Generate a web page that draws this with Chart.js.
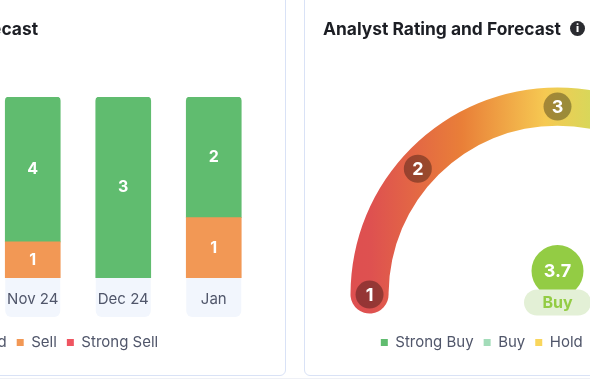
<!DOCTYPE html>
<html>
<head>
<meta charset="utf-8">
<script src="https://cdn.jsdelivr.net/npm/chart.js@4"></script>
<style>
  html, body { margin: 0; padding: 0; background: #fff; width: 590px; height: 379px; overflow: hidden; font-family: Inter, sans-serif; }
  .card { position: absolute; top: -20px; height: 396px; box-sizing: border-box; border: 1px solid #d9e2f6; border-radius: 6px; background: #fff; overflow: hidden; }
  #leftCard { left: -323px; width: 609px; }
  #rightCard { left: 304px; width: 507px; }
  #rule { position: absolute; left: 0; top: 378px; width: 590px; height: 1px; background: #eef0f6; }
  canvas { position: absolute; left: -1px; top: 19px; }
  .title { position: absolute; top: 37px; font-size: 17.4px; font-weight: 700; color: #1c1e24; line-height: 22px; white-space: nowrap; z-index: 2; }
  #leftCard .title { right: 247px; }
  #rightCard .title { left: 18px; }
  .info { position: absolute; left: 265px; top: 40px; width: 15px; height: 15px; border-radius: 50%; background: #2a2b30; color: #fff; font-size: 11px; font-weight: 800; line-height: 15px; text-align: center; z-index: 2; }
</style>
</head>
<body>
<div class="card" id="leftCard">
  <div class="title">Forecast</div>
  <canvas id="trendChart" width="608" height="380"></canvas>
</div>
<div class="card" id="rightCard">
  <div class="title">Analyst Rating and Forecast</div>
  <div class="info">i</div>
  <canvas id="gaugeChart" width="507" height="380"></canvas>
</div>
<div id="rule"></div>
<script>
// only the last three months are on screen, the blank ones sit off the left edge
const months = ['', '', '', 'Nov 24', 'Dec 24', 'Jan'];
const strongBuy = [null, null, null, 4, 3, 2];
const buy = [null, null, null, 0, 0, 0];
const hold = [null, null, null, 0, 0, 0];
const sell = [null, null, null, 1, 0, 1];
const strongSell = [null, null, null, 0, 0, 0];

const ratingNames = ['Strong Buy', 'Buy', 'Hold', 'Sell', 'Strong Sell'];
const ratingColors = ['#60bc6f', '#a3dcb9', '#f9d65c', '#f29855', '#ef5561'];

const gaugeStops = ['1', '2', '3', '4', '5'];
const gaugeScore = '3.7';
const gaugeVerdict = 'Buy';

const fontName = 'Inter, sans-serif';
const textColor = '#50566a';

// bars are 100% stacked, each count is drawn as its share of the month
const monthTotal = (i) => [strongBuy, buy, hold, sell, strongSell].reduce((sum, s) => sum + (s[i] || 0), 0);
const share = (list) => list.map((v, i) => v ? v / monthTotal(i) * 100 : null);

const barDataset = (list, ratingIndex, radius) => ({
    label: ratingNames[ratingIndex],
    data: share(list),
    counts: list,
    backgroundColor: ratingColors[ratingIndex],
    borderRadius: radius,
    borderSkipped: false,
    barThickness: 55
});

const tilePlugin = {
    id: 'monthTiles',
    beforeDraw(chart) {
        const { ctx, scales: { x }, chartArea } = chart;
        ctx.save();
        ctx.fillStyle = '#f2f6fd';
        months.forEach((m, i) => {
            ctx.beginPath();
            ctx.roundRect(x.getPixelForValue(i) - 27.5, chartArea.bottom - 4, 55, 43, [0, 0, 6, 6]);
            ctx.fill();
        });
        ctx.restore();
    }
};

const countLabels = {
    id: 'countLabels',
    afterDatasetsDraw(chart) {
        const { ctx } = chart;
        ctx.save();
        ctx.fillStyle = '#fff';
        ctx.font = '700 16px ' + fontName;
        ctx.textAlign = 'center';
        ctx.textBaseline = 'middle';
        chart.data.datasets.forEach((ds, d) => {
            chart.getDatasetMeta(d).data.forEach((bar, i) => {
                if (ds.counts[i]) ctx.fillText(ds.counts[i], bar.x, (bar.y + bar.base) / 2);
            });
        });
        ctx.restore();
    }
};

// the full legend is centred on the whole card, not on the bars
const legendShift = {
    id: 'legendShift',
    beforeDraw(chart) {
        chart.legend.left = 33;
        chart.legend.right = chart.width - 32;
    }
};

new Chart(document.getElementById('trendChart'), {
    type: 'bar',
    data: {
        labels: months,
        datasets: [
            barDataset(strongSell, 4, 0),
            barDataset(sell, 3, 0),
            barDataset(hold, 2, 0),
            barDataset(buy, 1, 0),
            barDataset(strongBuy, 0, { topLeft: 4, topRight: 4, bottomLeft: 0, bottomRight: 0 })
        ]
    },
    options: {
        responsive: false,
        animation: false,
        layout: { padding: { left: 39, right: 26, top: 97, bottom: 20 } },
        plugins: {
            legend: {
                position: 'bottom',
                reverse: true,
                labels: { boxWidth: 7, boxHeight: 7, padding: 10, color: textColor, font: { family: fontName, size: 15 } }
            },
            tooltip: { enabled: false }
        },
        scales: {
            x: {
                stacked: true,
                grid: { display: false },
                border: { display: false },
                afterFit: (scale) => { scale.height = 47; },
                ticks: { color: textColor, padding: 4, maxRotation: 0, font: { family: fontName, size: 15 } }
            },
            y: { stacked: true, display: false, min: 0, max: 100 }
        }
    },
    plugins: [tilePlugin, countLabels, legendShift]
});

const gaugeCanvas = document.getElementById('gaugeChart');
const sweep = gaugeCanvas.getContext('2d').createLinearGradient(46, 0, 461, 0);
sweep.addColorStop(0, '#de4f50');
sweep.addColorStop(0.05, '#de5150');
sweep.addColorStop(0.27, '#e97f38');
sweep.addColorStop(0.47, '#f6c952');
sweep.addColorStop(0.58, '#d8d75a');
sweep.addColorStop(1, '#60bc6f');

const gaugeMarks = {
    id: 'gaugeMarks',
    afterDatasetsDraw(chart) {
        const { ctx } = chart;
        const arc = chart.getDatasetMeta(0).data[0];
        const mid = (arc.outerRadius + arc.innerRadius) / 2;
        const angles = [180, 138, 90, 42, 0];
        ctx.save();
        ctx.textAlign = 'center';
        ctx.textBaseline = 'middle';
        gaugeStops.forEach((stop, i) => {
            const a = angles[i] * Math.PI / 180;
            const x = arc.x + Math.cos(a) * mid;
            const y = arc.y - Math.sin(a) * mid;
            ctx.beginPath();
            ctx.arc(x, y, 14, 0, Math.PI * 2);
            ctx.fillStyle = 'rgba(0, 0, 0, 0.33)';
            ctx.fill();
            ctx.fillStyle = '#fff';
            ctx.font = '700 18px ' + fontName;
            ctx.fillText(stop, x, y + 1);
        });
        // score bubble with its verdict pill
        ctx.beginPath();
        ctx.arc(arc.x, arc.y - 23.5, 26, 0, Math.PI * 2);
        ctx.fillStyle = '#93cc44';
        ctx.fill();
        ctx.fillStyle = '#fff';
        ctx.font = '700 18px ' + fontName;
        ctx.fillText(gaugeScore, arc.x, arc.y - 23);
        ctx.beginPath();
        ctx.roundRect(arc.x - 33.5, arc.y - 5, 67, 26, 13);
        ctx.fillStyle = '#e3f0d6';
        ctx.fill();
        ctx.fillStyle = '#93cc44';
        ctx.font = '700 16px ' + fontName;
        ctx.fillText(gaugeVerdict, arc.x, arc.y + 9);
        ctx.restore();
    }
};

new Chart(gaugeCanvas, {
    type: 'doughnut',
    data: {
        labels: ['Rating'],
        datasets: [{ data: [1], backgroundColor: sweep, borderWidth: 0, borderRadius: 19 }]
    },
    options: {
        responsive: false,
        animation: false,
        rotation: -95.8,
        circumference: 191.6,
        radius: 207,
        cutout: '81.6%',
        layout: { padding: { top: 78, bottom: 20 } },
        plugins: {
            legend: {
                position: 'bottom',
                labels: {
                    boxWidth: 7, boxHeight: 7, padding: 10, color: textColor,
                    font: { family: fontName, size: 15 },
                    generateLabels: () => ratingNames.map((name, i) => ({
                        text: name, fillStyle: ratingColors[i], strokeStyle: ratingColors[i], lineWidth: 0, fontColor: textColor
                    }))
                }
            },
            tooltip: { enabled: false }
        }
    },
    plugins: [gaugeMarks]
});
</script>
</body>
</html>
